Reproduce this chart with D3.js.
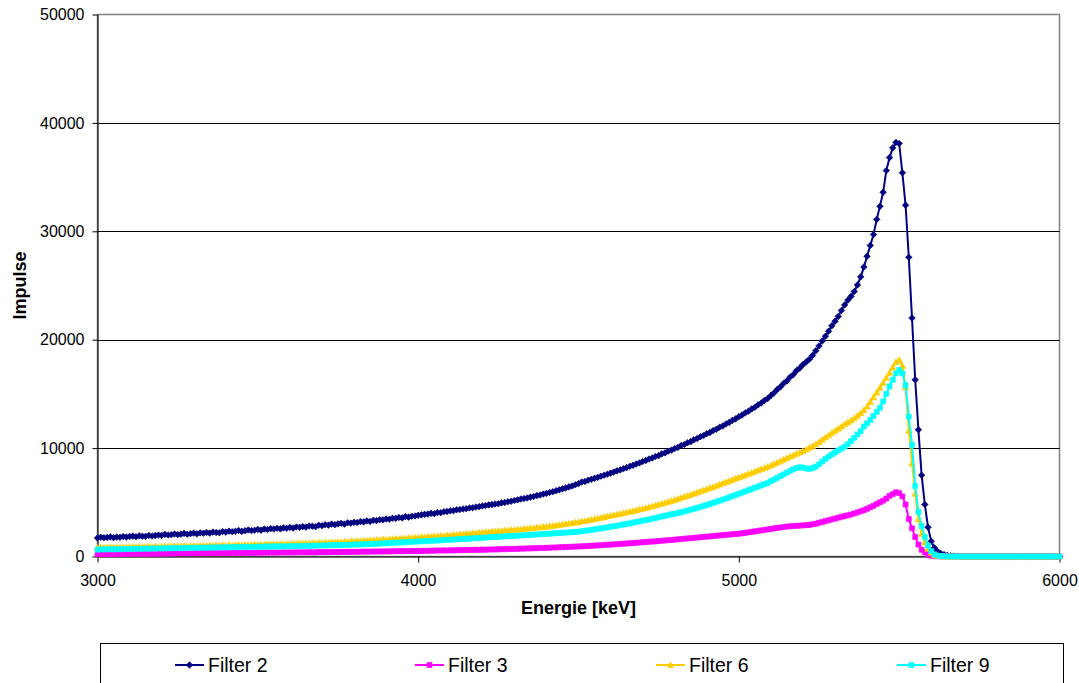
<!DOCTYPE html>
<html>
<head>
<meta charset="utf-8">
<script src="https://cdn.jsdelivr.net/npm/d3@7/dist/d3.min.js"></script>
<style>
  html, body { margin: 0; padding: 0; background: #fff; }
  svg { display: block; font-family: "Liberation Sans", Arial, sans-serif; }
</style>
</head>
<body>
<div id="chart"></div>
<script>
// Spektrum: Kanal 0 = 3000 keV, Kanalbreite 10 keV
const energyStart = 3000;
const energyStep = 10;

const filter2 = [
  1700,1780,1730,1760,1810,1740,1790,1770,1840,1790,
  1850,1880,1820,1900,1870,1860,1940,1890,1930,1980,
  1950,2040,1990,2010,2080,2020,2060,2130,2050,2110,
  2160,2090,2180,2150,2220,2160,2250,2210,2190,2300,
  2250,2340,2290,2330,2400,2320,2380,2450,2390,2420,
  2500,2430,2530,2490,2570,2530,2610,2550,2640,2600,
  2680,2620,2720,2700,2760,2710,2810,2790,2750,2880,
  2840,2930,2890,2990,2940,3010,3060,2990,3110,3080,
  3150,3130,3220,3190,3290,3230,3340,3310,3390,3380,
  3460,3430,3530,3520,3600,3560,3680,3630,3720,3740,
  3800,3840,3890,3910,3980,3950,4060,4040,4130,4150,
  4220,4230,4310,4330,4380,4410,4480,4500,4560,4600,
  4660,4700,4760,4790,4850,4870,4950,4980,5050,5090,
  5170,5220,5300,5350,5400,5480,5530,5620,5670,5760,
  5820,5910,5980,6070,6150,6240,6320,6420,6500,6620,
  6720,6870,6920,7040,7120,7210,7300,7410,7500,7590,
  7690,7790,7900,7990,8100,8200,8320,8410,8540,8630,
  8760,8850,8990,9080,9230,9310,9470,9560,9720,9810,
  9970,10060,10230,10330,10500,10600,10770,10880,11050,11160,
  11330,11440,11620,11740,11920,12040,12230,12370,12560,12700,
  12900,13050,13250,13400,13610,13770,13990,14160,14400,14580,
  14850,15100,15420,15650,15980,16200,16560,16780,17150,17380,
  17700,17950,18200,18550,18980,19420,19880,20320,20780,21280,
  21700,22150,22700,23200,23650,24000,24450,25050,25800,26700,
  27700,28700,29700,31100,32300,33600,35600,36800,37700,38200,
  38100,35400,32400,27600,22000,16300,11700,7500,4800,2700,
  1400,800,450,280,170,100,60,40,25,15,
  10,8,5,4,3,2,2,1,1,0,
  0,0,0,0,0,0,0,0,0,0,
  0,0,0,0,0,0,0,0,0,0,
  0
];

const filter3 = [
  210,245,225,250,215,240,260,225,255,240,
  265,235,270,250,280,245,275,265,250,290,
  260,295,275,290,270,305,280,300,290,310,
  285,315,300,295,325,305,320,300,335,315,
  330,310,345,325,340,320,355,335,350,330,
  360,340,365,350,375,345,370,360,385,365,
  380,360,390,375,395,370,400,385,375,410,
  395,420,400,410,425,405,430,415,435,420,
  440,425,450,435,455,445,465,450,470,460,
  475,465,490,475,500,485,505,490,515,500,
  520,505,530,520,545,530,555,545,565,550,
  570,560,585,575,600,590,610,600,625,615,
  635,625,650,640,665,655,680,670,695,690,
  710,705,730,725,750,745,770,765,790,785,
  805,810,830,830,855,860,880,885,905,915,
  925,940,955,970,990,1005,1025,1040,1065,1080,
  1100,1115,1140,1155,1180,1195,1225,1240,1270,1285,
  1315,1330,1360,1375,1405,1425,1455,1475,1505,1525,
  1560,1580,1615,1635,1670,1690,1725,1745,1780,1800,
  1835,1855,1890,1910,1945,1965,2000,2020,2055,2075,
  2100,2145,2175,2235,2265,2325,2355,2415,2445,2505,
  2545,2595,2635,2685,2715,2765,2785,2815,2825,2855,
  2865,2895,2915,2975,3025,3115,3175,3275,3335,3425,
  3500,3580,3660,3730,3800,3880,3970,4070,4170,4270,
  4400,4540,4680,4850,5000,5150,5350,5600,5750,5930,
  5850,5550,4800,3450,2600,1800,1100,620,380,170,
  70,30,15,8,5,3,2,1,1,0,
  0,0,0,0,0,0,0,0,0,0,
  0,0,0,0,0,0,0,0,0,0,
  0,0,0,0,0,0,0,0,0,0,
  0
];

const filter6 = [
  810,860,835,850,880,830,870,845,890,855,
  880,910,870,920,895,905,935,890,945,915,
  930,960,920,975,945,985,950,1000,965,985,
  1000,970,1025,995,1015,1045,1000,1050,1020,1060,
  1030,1070,1045,1060,1090,1050,1100,1075,1085,1120,
  1090,1130,1100,1145,1120,1160,1130,1175,1155,1190,
  1170,1210,1185,1230,1205,1250,1225,1265,1240,1290,
  1265,1310,1285,1335,1310,1365,1345,1390,1370,1425,
  1400,1455,1430,1485,1465,1520,1495,1555,1530,1590,
  1565,1620,1595,1655,1635,1690,1665,1725,1705,1765,
  1745,1805,1780,1845,1825,1885,1865,1930,1905,1975,
  1955,2020,2000,2070,2050,2115,2100,2170,2155,2225,
  2210,2270,2255,2320,2305,2370,2355,2420,2410,2470,
  2450,2510,2500,2570,2560,2630,2620,2690,2690,2760,
  2750,2820,2830,2890,2910,2970,3000,3060,3090,3150,
  3170,3250,3280,3360,3400,3470,3520,3590,3640,3720,
  3760,3830,3880,3950,4010,4080,4140,4210,4270,4350,
  4410,4490,4560,4640,4720,4800,4880,4970,5050,5140,
  5230,5320,5420,5510,5610,5710,5810,5910,6020,6120,
  6220,6320,6430,6540,6650,6760,6870,6980,7090,7200,
  7300,7410,7520,7630,7740,7850,7960,8070,8180,8290,
  8410,8540,8680,8810,8950,9080,9220,9350,9490,9610,
  9720,9870,10030,10190,10370,10570,10770,10980,11190,11400,
  11600,11800,12000,12200,12380,12560,12770,12990,13230,13500,
  13850,14250,14700,15130,15580,16020,16500,16950,17450,17950,
  18150,17600,15600,11600,8600,5800,3450,2100,1300,720,
  350,120,60,30,15,8,4,2,1,0,
  0,0,0,0,0,0,0,0,0,0,
  0,0,0,0,0,0,0,0,0,0,
  0,0,0,0,0,0,0,0,0,0,
  0
];

const filter9 = [
  625,670,650,660,685,645,690,665,675,700,
  680,715,695,725,700,735,710,745,720,750,
  735,765,745,780,755,790,765,795,775,805,
  790,815,800,830,805,840,815,845,825,855,
  840,865,850,880,855,890,865,895,875,900,
  890,915,900,930,905,940,915,945,925,950,
  940,965,950,980,960,990,975,1005,990,1015,
  1005,1035,1020,1050,1035,1065,1050,1080,1070,1095,
  1090,1120,1110,1140,1135,1160,1160,1185,1190,1215,
  1220,1250,1255,1280,1285,1315,1320,1345,1355,1380,
  1385,1410,1415,1435,1445,1465,1475,1495,1510,1530,
  1545,1570,1580,1605,1615,1645,1650,1680,1690,1715,
  1730,1755,1765,1790,1800,1825,1835,1860,1870,1895,
  1905,1930,1940,1965,1975,2005,2010,2040,2045,2075,
  2085,2110,2120,2150,2160,2190,2200,2230,2240,2275,
  2290,2330,2370,2410,2455,2500,2545,2590,2640,2690,
  2740,2790,2840,2895,2950,3005,3060,3120,3180,3240,
  3300,3360,3420,3490,3555,3620,3690,3760,3830,3900,
  3940,4010,4080,4160,4240,4320,4400,4490,4580,4670,
  4760,4850,4950,5050,5150,5250,5350,5460,5570,5680,
  5790,5900,6010,6120,6230,6340,6450,6560,6670,6780,
  6950,7100,7260,7420,7580,7740,7900,8050,8170,8230,
  8200,8120,8080,8150,8300,8500,8750,8990,9220,9420,
  9600,9780,9960,10130,10380,10650,10960,11260,11560,11990,
  12280,12600,12970,13350,13720,14300,15000,15700,16300,16900,
  17200,16900,15800,12900,10300,6500,4100,2800,1800,1000,
  500,200,80,30,15,8,4,2,1,0,
  0,0,0,0,0,0,0,0,0,0,
  0,0,0,0,0,0,0,0,0,0,
  0,0,0,0,0,0,0,0,0,0,
  0
];

const seriesNames = ["Filter 2", "Filter 3", "Filter 6", "Filter 9"];
const seriesColors = ["#000080", "#FF00FF", "#FFCC00", "#00FFFF"];
const seriesMarkers = ["diamond", "square", "triangle", "square"];
const xTicks = [3000, 4000, 5000, 6000];
const yTicks = [0, 10000, 20000, 30000, 40000, 50000];

const width = 1079;
const height = 683;

const svg = d3.select("#chart")
  .append("svg")
  .attr("width", width)
  .attr("height", height);

// Skalen
const x = d3.scaleLinear().domain([3000, 6000]).range([97.5, 1059.5]);
const y = d3.scaleLinear().domain([0, 50000]).range([556.5, 14.5]);

// Zeichenfläche
svg.append("rect")
  .attr("x", x(3000))
  .attr("y", y(50000))
  .attr("width", x(6000) - x(3000))
  .attr("height", y(0) - y(50000))
  .attr("fill", "#fff")
  .attr("stroke", "#808080")
  .attr("stroke-width", 1.5);

// Gitterlinien
svg.append("g")
  .selectAll("line")
  .data(yTicks.filter(d => d > 0 && d < 50000))
  .enter()
  .append("line")
  .attr("x1", x(3000))
  .attr("x2", x(6000))
  .attr("y1", d => Math.round(y(d)) + 0.5)
  .attr("y2", d => Math.round(y(d)) + 0.5)
  .attr("stroke", "#000")
  .attr("stroke-width", 1);

// Achsen
const yAxis = svg.append("g")
  .attr("transform", `translate(${x(3000)},0)`)
  .call(d3.axisLeft(y).tickValues(yTicks).tickFormat(d3.format("d")).tickSize(5).tickSizeOuter(0).tickPadding(8));

const xAxis = svg.append("g")
  .attr("transform", `translate(0,${y(0)})`)
  .call(d3.axisBottom(x).tickValues(xTicks).tickFormat(d3.format("d")).tickSize(6).tickSizeOuter(0).tickPadding(12));

[xAxis, yAxis].forEach(g => {
  g.select(".domain").attr("stroke", "#000").attr("stroke-width", 1);
  g.selectAll(".tick line").attr("stroke", "#000");
  g.selectAll(".tick text")
    .attr("fill", "#000")
    .style("font-size", "16px")
    .style("font-family", "'Liberation Sans', Arial, sans-serif");
});

// Achsentitel
svg.append("text")
  .attr("x", (x(3000) + x(6000)) / 2)
  .attr("y", 614)
  .attr("text-anchor", "middle")
  .style("font-size", "18px")
  .style("font-weight", "bold")
  .text("Energie [keV]");

svg.append("text")
  .attr("transform", `translate(26,${(y(0) + y(50000)) / 2}) rotate(-90)`)
  .attr("text-anchor", "middle")
  .style("font-size", "18px")
  .style("font-weight", "bold")
  .text("Impulse");

// Markerformen
function markerPath(type) {
  if (type === "diamond") return "M0,-3.3L3.3,0L0,3.3L-3.3,0Z";
  if (type === "triangle") return "M0,-3.2L3.2,2.6L-3.2,2.6Z";
  return "M-2.5,-2.5L2.5,-2.5L2.5,2.5L-2.5,2.5Z";
}

// Kurven
const allSeries = [filter2, filter3, filter6, filter9];
const line = d3.line()
  .x(d => x(d[0]))
  .y(d => y(d[1]));

allSeries.forEach((values, k) => {
  const points = values.map((v, i) => [energyStart + i * energyStep, v]);
  const g = svg.append("g");

  g.append("path")
    .datum(points)
    .attr("fill", "none")
    .attr("stroke", seriesColors[k])
    .attr("stroke-width", 2)
    .attr("stroke-linejoin", "round")
    .attr("d", line);

  g.selectAll("path.marker")
    .data(points)
    .enter()
    .append("path")
    .attr("class", "marker")
    .attr("transform", d => `translate(${x(d[0])},${y(d[1])})`)
    .attr("d", markerPath(seriesMarkers[k]))
    .attr("fill", seriesColors[k])
    .attr("stroke", seriesColors[k])
    .attr("stroke-width", 0.6);
});

// Legende
svg.append("rect")
  .attr("x", 100.5)
  .attr("y", 643.5)
  .attr("width", 963)
  .attr("height", 60)
  .attr("fill", "#fff")
  .attr("stroke", "#000")
  .attr("stroke-width", 1);

const legendX = [175, 415, 656, 897];
seriesNames.forEach((name, k) => {
  const item = svg.append("g")
    .attr("transform", `translate(${legendX[k]},665)`);

  item.append("line")
    .attr("x1", 0)
    .attr("x2", 29)
    .attr("y1", 0)
    .attr("y2", 0)
    .attr("stroke", seriesColors[k])
    .attr("stroke-width", 2);

  item.append("path")
    .attr("transform", "translate(14.5,0)")
    .attr("d", markerPath(seriesMarkers[k]))
    .attr("fill", seriesColors[k])
    .attr("stroke", seriesColors[k])
    .attr("stroke-width", 0.6);

  item.append("text")
    .attr("x", 33)
    .attr("y", 0)
    .attr("dy", "0.35em")
    .style("font-size", "19.5px")
    .text(name);
});
</script>
</body>
</html>
